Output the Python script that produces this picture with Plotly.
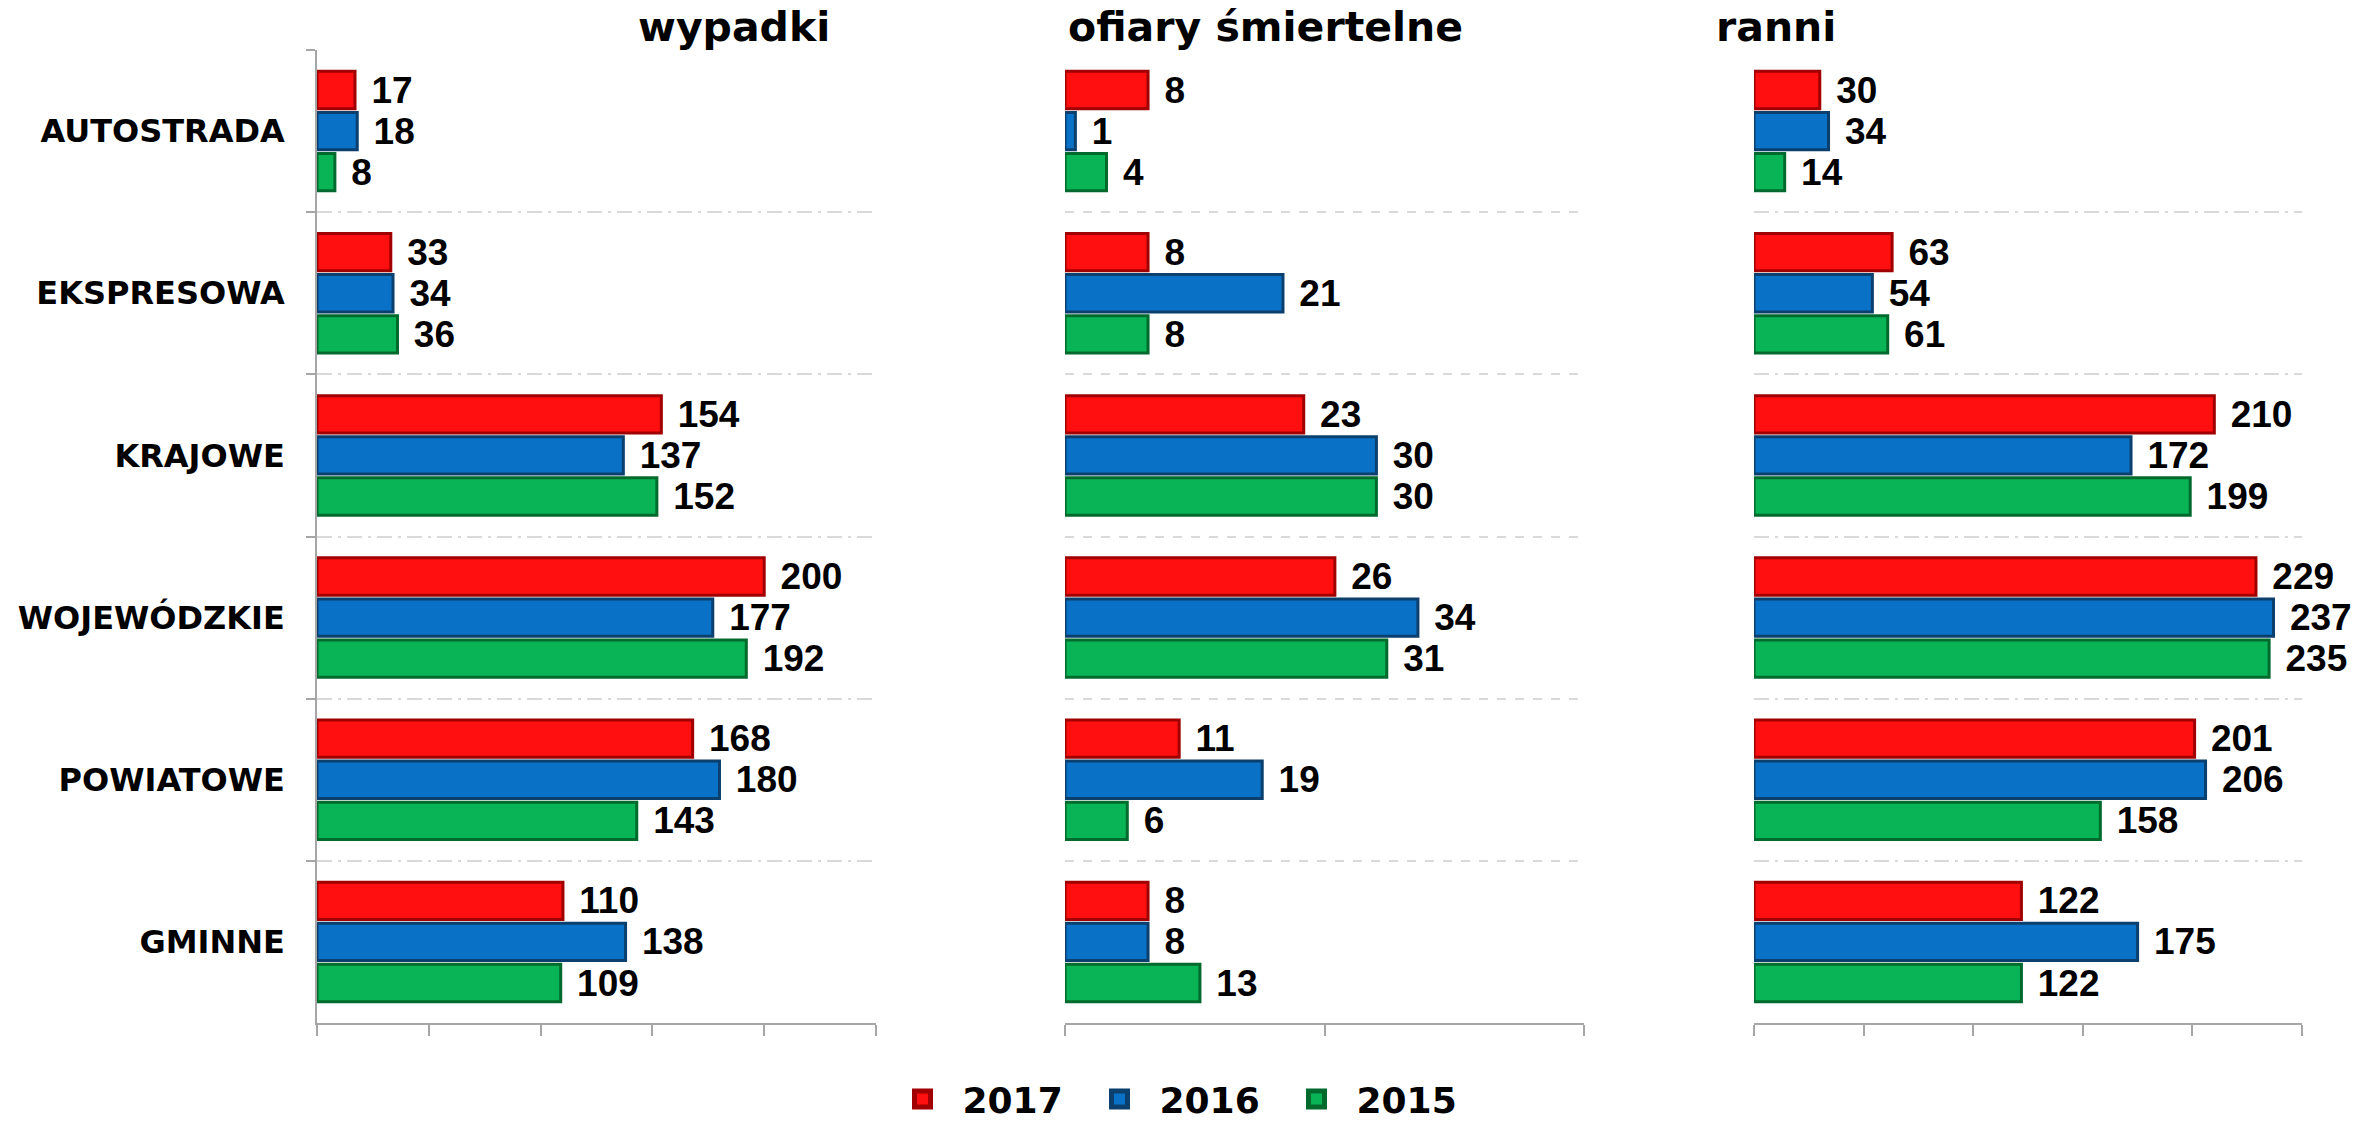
import plotly.graph_objects as go

# ---------------- data ----------------
categories = ["AUTOSTRADA", "EKSPRESOWA", "KRAJOWE", "WOJEWÓDZKIE", "POWIATOWE", "GMINNE"]
years = ["2017", "2016", "2015"]

wypadki_2017 = [17, 33, 154, 200, 168, 110]
wypadki_2016 = [18, 34, 137, 177, 180, 138]
wypadki_2015 = [8, 36, 152, 192, 143, 109]

ofiary_2017 = [8, 8, 23, 26, 11, 8]
ofiary_2016 = [1, 21, 30, 34, 19, 8]
ofiary_2015 = [4, 8, 30, 31, 6, 13]

ranni_2017 = [30, 63, 210, 229, 201, 122]
ranni_2016 = [34, 54, 172, 237, 206, 175]
ranni_2015 = [14, 61, 199, 235, 158, 122]

panel_titles = ["wypadki", "ofiary śmiertelne", "ranni"]
ticks_250 = [0, 50, 100, 150, 200, 250]
ticks_50 = [0, 25, 50]

# ---------------- styles ----------------
fill = {"2017": "#FF0F0F", "2016": "#0A72C6", "2015": "#08B455"}
edge = {"2017": "#A00000", "2016": "#0A3F6E", "2015": "#036A2E"}
FONT = "Liberation Sans, Arial, sans-serif"
HEAVY = "DejaVu Sans, Arial Black, sans-serif"

W, H = 2356, 1129
def px_x(p):
    return p / W
def px_y(p):
    return 1 - p / H

y_domain = [px_y(1023), px_y(50)]
panels = [
    ("", [wypadki_2017, wypadki_2016, wypadki_2015], [px_x(317), px_x(876)], ticks_250, "longdashdot"),
    ("2", [ofiary_2017, ofiary_2016, ofiary_2015], [px_x(1065), px_x(1584)], ticks_50, "dash"),
    ("3", [ranni_2017, ranni_2016, ranni_2015], [px_x(1754), px_x(2302)], ticks_250, "longdashdot"),
]

fig = go.Figure()

for suffix, series, dom, tks, gdash in panels:
    for yr, vals in zip(years, series):
        fig.add_trace(go.Bar(
            y=categories, x=vals, orientation="h", name=yr,
            xaxis="x" + suffix, yaxis="y" + suffix,
            marker=dict(color=fill[yr], line=dict(color=edge[yr], width=3)),
            texttemplate="\u00a0\u200a%{x}", textposition="outside",
            constraintext="none", cliponaxis=False,
            textfont=dict(family=FONT, size=37, color="black", weight="bold"),
            showlegend=False, hoverinfo="x+y",
        ))

# legend entries
for yr in years:
    fig.add_trace(go.Scatter(
        x=[None], y=[None], mode="markers", name=yr,
        marker=dict(symbol="square", size=16, color=fill[yr], line=dict(color=edge[yr], width=5)),
        showlegend=True, xaxis="x", yaxis="y",
    ))

layout = dict(
    width=W, height=H,
    margin=dict(l=0, r=0, t=0, b=0),
    paper_bgcolor="white", plot_bgcolor="white",
    barmode="group", bargap=0.24, bargroupgap=0.09,
    showlegend=True,
    legend=dict(orientation="h", x=0.5, xanchor="center", y=0, yanchor="bottom",
                font=dict(family=HEAVY, size=36, color="black", weight="bold"),
                entrywidth=112, entrywidthmode="pixels", traceorder="normal",
                itemwidth=70, bgcolor="rgba(0,0,0,0)"),
)

over_idx = 4
for suffix, series, dom, tks, gdash in panels:
    rng = [0, tks[-1]]
    xa = dict(domain=dom, range=rng, tickvals=tks, ticks="outside", ticklen=11,
              tickcolor="#A6A6A6", tickwidth=1.5,
              showticklabels=False, showline=True, linecolor="#A6A6A6", linewidth=1.5,
              showgrid=False, zeroline=False, anchor="y" + suffix, fixedrange=True)
    ya = dict(domain=y_domain, type="category", categoryorder="array", categoryarray=categories,
              autorange="reversed", tickson="boundaries", showgrid=True,
              gridcolor="#D9D9D9", griddash=gdash, gridwidth=1.5,
              anchor="x" + suffix, fixedrange=True)
    if suffix == "":
        ya.update(showticklabels=True, ticks="outside", ticklen=9, tickcolor="#A6A6A6",
                  tickwidth=1.5, showline=True, linecolor="#A6A6A6", linewidth=1.5,
                  ticklabelstandoff=24,
                  tickfont=dict(family=HEAVY, size=32, color="black", weight="bold"))
    else:
        ya.update(showticklabels=False, ticks="", showline=False, matches="y")
    layout["xaxis" + suffix] = xa
    layout["yaxis" + suffix] = ya
    # overlay axis so that the ticks cross the axis line
    layout["xaxis%d" % over_idx] = dict(domain=dom, range=rng, tickvals=tks, ticks="inside",
                                        ticklen=11, tickcolor="#A6A6A6", tickwidth=1.5,
                                        showticklabels=False, showline=False, showgrid=False,
                                        zeroline=False, overlaying="x" + suffix,
                                        anchor="y" + suffix, fixedrange=True)
    over_idx += 1

fig.update_layout(**layout)

title_font = dict(family=HEAVY, size=41, color="black", weight="bold")
fig.add_annotation(text=panel_titles[0], xref="paper", yref="paper", x=px_x(832), y=px_y(27),
                   xanchor="right", yanchor="middle", showarrow=False, font=title_font)
fig.add_annotation(text=panel_titles[1], xref="paper", yref="paper", x=px_x(1066), y=px_y(27),
                   xanchor="left", yanchor="middle", showarrow=False, font=title_font)
fig.add_annotation(text=panel_titles[2], xref="paper", yref="paper", x=px_x(1714), y=px_y(27),
                   xanchor="left", yanchor="middle", showarrow=False, font=title_font)

fig.write_html("out.html", config={"displayModeBar": False},
               post_script="document.body.style.margin='0';")
